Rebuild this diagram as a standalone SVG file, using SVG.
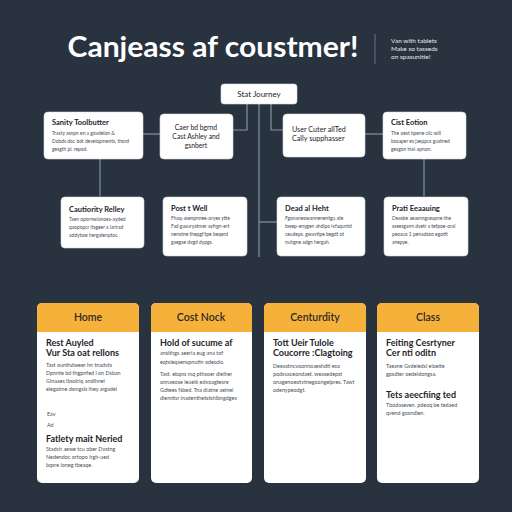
<svg xmlns="http://www.w3.org/2000/svg" width="512" height="512" viewBox="0 0 512 512">
<style>
.bg{fill:#29323f}
.node{fill:#ffffff;stroke:#d8dce2;stroke-width:0.6}
.conn{fill:none;stroke:#8793a1;stroke-width:1.2}
.t{font-family:Lato,"Liberation Sans",sans-serif;fill:#1e2329}
.nt{font-size:7.5px;font-weight:700}
.nc{font-size:6.8px}
.b{font-size:4.9px;fill:#454b53}
.card{fill:#ffffff}
.hd{fill:#f6b13b}
.ht{font-size:10.5px;font-weight:600;text-anchor:middle;fill:#2a2a2a}
.ct{font-size:9px;font-weight:700}
.cb{font-size:5.4px;fill:#4a5058}
</style>
<rect class="bg" x="0" y="0" width="512" height="512"/>

<g id="title">
<text x="213" y="57" text-anchor="middle" font-family="Lato,'Liberation Sans',sans-serif" font-weight="700" font-size="29" fill="#ffffff" textLength="291" lengthAdjust="spacingAndGlyphs">Canjeass af coustmer!</text>
<line x1="375" y1="34" x2="375" y2="64" stroke="#6b7582" stroke-width="1"/>
<text font-family="Lato,'Liberation Sans',sans-serif" font-size="6.5" fill="#e6e9ed"><tspan x="391" y="43">Van with tablets</tspan><tspan x="391" y="51">Make so tasseds</tspan><tspan x="391" y="59">on spasunitie!</tspan></text>
</g>

<g id="connectors">
<path class="conn" d="M247,104 V130 H233"/>
<path class="conn" d="M259,104 V257"/>
<path class="conn" d="M271,104 V130 H283"/>
<path class="conn" d="M143,134 H160"/>
<path class="conn" d="M365,134 H383"/>
<path class="conn" d="M100,159 V196"/>
<path class="conn" d="M424,159 V196"/>
<path class="conn" d="M259,222 H277"/>
</g>

<g id="start">
<rect class="node" x="221" y="84" width="76" height="20" rx="3"/>
<text class="t" x="259" y="97" text-anchor="middle" font-size="8">Stat Journey</text>
</g>

<g id="sanity">
<rect class="node" x="44" y="112" width="99" height="47" rx="4"/>
<text class="t nt" x="52" y="125">Sanity Toolbutter</text>
<text class="t b"><tspan x="52" y="135">Trasty asnpn en a govdelon &amp;</tspan><tspan x="52" y="143">Dobds doc bot developments, thord</tspan><tspan x="52" y="151">gesgth pl. repod.</tspan></text>
</g>

<g id="caer">
<rect class="node" x="160" y="114" width="73" height="45" rx="4"/>
<text class="t nc" text-anchor="middle"><tspan x="196" y="130">Caer bd bgrnd</tspan><tspan x="196" y="139">Cast Ashley and</tspan><tspan x="196" y="148">gsnbert</tspan></text>
</g>

<g id="user">
<rect class="node" x="283" y="114" width="82" height="43" rx="4"/>
<text class="t" font-size="7.2"><tspan x="292" y="132">User Cuter allTed</tspan><tspan x="292" y="141">Cally supphasser</tspan></text>
</g>

<g id="cist">
<rect class="node" x="383" y="112" width="83" height="47" rx="4"/>
<text class="t nt" x="391" y="125">Cist Eotion</text>
<text class="t b"><tspan x="391" y="135">The oest hpene clic will</tspan><tspan x="391" y="143">bosaper es jaeppcs gustned</tspan><tspan x="391" y="151">gesgon inal-apnon.</tspan></text>
</g>

<g id="cautiority">
<rect class="node" x="61" y="197" width="83" height="51" rx="4"/>
<text class="t nt" x="69" y="212">Cautiority Relley</text>
<text class="t b"><tspan x="69" y="221">Taen opornwianoes-ayded</tspan><tspan x="69" y="229">qaopopcr itsgeer a larirad</tspan><tspan x="69" y="237">addytow hergatenptoc.</tspan></text>
</g>

<g id="post">
<rect class="node" x="163" y="197" width="84" height="59" rx="4"/>
<text class="t nt" x="171" y="211">Post t Well</text>
<text class="t b"><tspan x="171" y="220">Fhaq-asenpnnee-oryes ytte</tspan><tspan x="171" y="228">Fad gaauryatmer ayfrgn-ert</tspan><tspan x="171" y="236">nenstne thepgt'tpe beqerd</tspan><tspan x="171" y="244">gaegae dvgd dypgs.</tspan></text>
</g>

<g id="dead">
<rect class="node" x="277" y="197" width="88" height="59" rx="4"/>
<text class="t nt" x="285" y="211">Dead al Heht</text>
<text class="t b"><tspan x="285" y="220">Fgonaneowannenentgu ate</tspan><tspan x="285" y="228">bwep-enygen ahdipo ivfaquntd</tspan><tspan x="285" y="236">ceudeps. gwavtipe begdt ot</tspan><tspan x="285" y="244">nuhgne adgn hergah.</tspan></text>
</g>

<g id="prati">
<rect class="node" x="384" y="197" width="84" height="59" rx="4"/>
<text class="t nt" x="392" y="211">Prati Eeaauing</text>
<text class="t b"><tspan x="392" y="220">Deasbe aeasnngceapne-the</tspan><tspan x="392" y="228">sseesgann dvetr a tefpoe-oral</tspan><tspan x="392" y="236">peoaco 1 penadsoo egotit</tspan><tspan x="392" y="244">anepye.</tspan></text>
</g>

<g id="card-home">
<rect class="card" x="37" y="303" width="102" height="180" rx="5"/>
<path class="hd" d="M37,332 V308 A5,5 0 0 1 42,303 H134 A5,5 0 0 1 139,308 V332 Z"/>
<text class="t ht" x="88" y="321">Home</text>
<text class="t ct"><tspan x="46" y="346">Rest Auyled</tspan><tspan x="46" y="356">Vur Sta oat rellons</tspan></text>
<text class="t cb"><tspan x="46" y="367">Tast ounthdweer hn tnadvts</tspan><tspan x="46" y="375">Dpnnte bd thgpnfed i on Dsban</tspan><tspan x="46" y="383">Glnaaes lbsoiriq andihnel</tspan><tspan x="46" y="391">elegolme dsmgsls lhey argadel</tspan></text>
<text class="t cb"><tspan x="47" y="416">Eav</tspan><tspan x="47" y="427">Ad</tspan></text>
<text class="t ct" x="46" y="442">Fatlety mait Neried</text>
<text class="t cb"><tspan x="46" y="451">Stadch aewe tcu ober Dvstng</tspan><tspan x="46" y="459">Nedendoc ortopo lrgh-ued</tspan><tspan x="46" y="467">bqsre loneg tbeaqe.</tspan></text>
</g>

<g id="card-cost">
<rect class="card" x="151" y="303" width="101" height="180" rx="5"/>
<path class="hd" d="M151,332 V308 A5,5 0 0 1 156,303 H247 A5,5 0 0 1 252,308 V332 Z"/>
<text class="t ht" x="201" y="321">Cost Nock</text>
<text class="t ct" x="160" y="346">Hold of sucume af</text>
<text class="t cb"><tspan x="160" y="355">anslthgs aeeria eug ana tof</tspan><tspan x="160" y="364">eqtsleqaenspnutin odeodo.</tspan></text>
<text class="t cb"><tspan x="160" y="376">Tast. ebqns mq pthsoer dlelher</tspan><tspan x="160" y="384">onnaeose leuelk edvoagtesre</tspan><tspan x="160" y="392">Gdtees Nbed. Tna dlatne aelnel</tspan><tspan x="160" y="400">dlenntsr lnadenthetstshlbngdges</tspan></text>
</g>

<g id="card-centurity">
<rect class="card" x="264" y="303" width="102" height="180" rx="5"/>
<path class="hd" d="M264,332 V308 A5,5 0 0 1 269,303 H361 A5,5 0 0 1 366,308 V332 Z"/>
<text class="t ht" x="315" y="321">Centurdity</text>
<text class="t ct"><tspan x="273" y="346">Tott Ueir Tulole</tspan><tspan x="273" y="356">Coucorre :Clagtoing</tspan></text>
<text class="t cb"><tspan x="273" y="368">Deeastncvoonnoaeshdti eso</tspan><tspan x="273" y="376">podsvaceondaet. weasedepst</tspan><tspan x="273" y="384">onagenoeotvtnegoongelpres. Tawt</tspan><tspan x="273" y="392">odenypeodgt.</tspan></text>
</g>

<g id="card-class">
<rect class="card" x="377" y="303" width="102" height="180" rx="5"/>
<path class="hd" d="M377,332 V308 A5,5 0 0 1 382,303 H474 A5,5 0 0 1 479,308 V332 Z"/>
<text class="t ht" x="428" y="321">Class</text>
<text class="t ct"><tspan x="386" y="346">Feiting Cesrtyner</tspan><tspan x="386" y="356">Cer nti oditn</tspan></text>
<text class="t cb"><tspan x="386" y="368">Taeane Gvdeledsi eloelte</tspan><tspan x="386" y="376">gpsdter oedeldongsa.</tspan></text>
<text class="t ct" x="386" y="398">Tets aeecfiing ted</text>
<text class="t cb"><tspan x="386" y="407">Tbodaseven. pdeoq be tedaed</tspan><tspan x="386" y="415">qvend gosndlen.</tspan></text>
</g>
</svg>
